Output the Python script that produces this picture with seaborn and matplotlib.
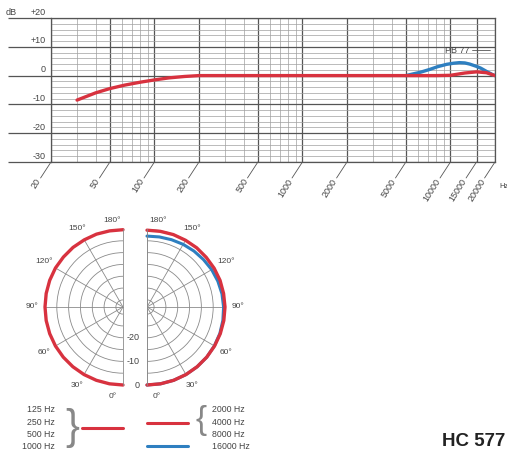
import numpy as np
import matplotlib
matplotlib.use('Agg')
import matplotlib.pyplot as plt
import matplotlib.ticker as mticker
from matplotlib.lines import Line2D
import seaborn as sns
import pandas as pd

sns.set_style('white')
plt.rcParams['font.family'] = ['Liberation Sans', 'DejaVu Sans']

RED = '#d8323f'
BLUE = '#2e7fc0'
GRID_MAJ = '#555555'
GRID_MIN = '#a0a0a0'
TXT = '#444444'

# Frequency response (Hz / dB)
resp_freq = [30, 40, 50, 63, 80, 100, 125, 160, 200, 300, 500, 1000, 2000, 5000, 8000,
             10000, 12500, 15000, 17500, 20000]
resp_db = [-8.5, -6.0, -4.5, -3.3, -2.3, -1.5, -0.8, -0.3, 0, 0, 0, 0, 0, 0, 0,
           0.1, 0.9, 1.3, 1.0, 0.0]
pb77_freq = [5000, 5500, 6300, 7300, 8200, 9400, 10500, 11500, 12500, 13500, 15000,
             16000, 17600, 19500, 20000]
pb77_db = [0, 0.5, 1.2, 2.2, 3.1, 3.9, 4.3, 4.5, 4.4, 4.0, 3.2, 2.6, 1.4, 0.2, 0]

freq_ticks = [20, 50, 100, 200, 500, 1000, 2000, 5000, 10000, 15000, 20000]
freq_labels = ['20', '50', '100', '200', '500', '1000', '2000', '5000', '10000', '15000', '20000']
db_ticks = [20, 10, 0, -10, -20, -30]
db_labels = ['+20', '+10', '0', '-10', '-20', '-30']

# Polar pattern (degrees / dB)
polar_deg = [0, 10, 20, 30, 40, 50, 60, 70, 80, 90, 100, 110, 120, 130, 140, 150, 160, 170, 180]
low_db = [0, 0, 0, 0, 0, 0, 0, 0, 0, 0, 0, 0, 0, -0.1, -0.1, -0.2, -0.2, -0.3, -0.3]
mid_db = [0, 0, 0, 0, 0, 0, 0, 0, 0, 0, -0.1, -0.1, -0.2, -0.3, -0.3, -0.4, -0.4, -0.5, -0.5]
hf16k_db = [0, 0, 0, 0, 0, 0, -0.1, -0.2, -0.4, -0.6, -0.8, -1.1, -1.4, -1.8, -2.1,
            -2.4, -2.7, -2.9, -3.0]
label_deg = [0, 30, 60, 90, 120, 150, 180]
polar_labels = ['0°', '30°', '60°', '90°', '120°', '150°', '180°']
ring_labels = ['0', '-10', '-20']
ring_vals = [0, -10, -20]

low_legend = ['125 Hz', '250 Hz', '500 Hz', '1000 Hz']
high_legend = ['2000 Hz', '4000 Hz', '8000 Hz', '16000 Hz']

W, H = 507, 457
fig = plt.figure(figsize=(W / 100, H / 100), dpi=100)


def fx(x):
    return x / W


def fy(y):
    return 1 - y / H


# ---------------- frequency response ----------------
ax = fig.add_axes([fx(51), fy(162), fx(495) - fx(51), fy(18) - fy(162)])
ax.set_xscale('log')
ax.set_xlim(20, 20000)
ax.set_ylim(-30, 20)

df_resp = pd.DataFrame({'f': resp_freq, 'db': resp_db})
df_pb = pd.DataFrame({'f': pb77_freq, 'db': pb77_db})
sns.lineplot(data=df_pb, x='f', y='db', ax=ax, color=BLUE, lw=2.4, estimator=None, sort=False, zorder=4)
sns.lineplot(data=df_resp, x='f', y='db', ax=ax, color=RED, lw=2.4, estimator=None, sort=False, zorder=5)

ax.xaxis.set_major_locator(mticker.FixedLocator(freq_ticks))
ax.xaxis.set_minor_locator(mticker.LogLocator(base=10, subs=np.arange(2, 10), numticks=20))
ax.yaxis.set_major_locator(mticker.MultipleLocator(10))
ax.yaxis.set_minor_locator(mticker.MultipleLocator(2))
ax.grid(which='major', color=GRID_MAJ, lw=0.9)
ax.grid(which='minor', color=GRID_MIN, lw=0.5)
ax.set_xticklabels([])
ax.set_yticklabels([])
ax.tick_params(axis='x', which='both', length=0)
ax.tick_params(axis='y', which='major', length=31, width=0.9, color=GRID_MAJ, direction='out', left=True)
ax.tick_params(axis='y', which='minor', length=0)
for s in ax.spines.values():
    s.set_color(GRID_MAJ)
    s.set_linewidth(0.9)
ax.set_xlabel('')
ax.set_ylabel('')

for v, lbl in zip(db_ticks, db_labels):
    ax.annotate(lbl, xy=(0, v), xycoords=('axes fraction', 'data'), xytext=(-4, 1),
                textcoords='offset points', ha='right', va='bottom', fontsize=6.5, color=TXT)
ax.annotate('dB', xy=(0, 20), xycoords=('axes fraction', 'data'), xytext=(-25, 1),
            textcoords='offset points', ha='right', va='bottom', fontsize=6.5, color=TXT)

for f, lbl in zip(freq_ticks, freq_labels):
    ax.annotate('', xy=(f, 0), xycoords=('data', 'axes fraction'), xytext=(-7.5, -11.5),
                textcoords='offset points',
                arrowprops=dict(arrowstyle='-', lw=0.6, color=GRID_MAJ, shrinkA=0, shrinkB=0))
    ax.annotate(lbl, xy=(f, 0), xycoords=('data', 'axes fraction'), xytext=(-8.5, -12.5),
                textcoords='offset points', rotation=58, rotation_mode='anchor',
                ha='right', va='center', fontsize=6.5, color=TXT)
ax.annotate('Hz', xy=(1, 0), xycoords='axes fraction', xytext=(3, -18),
            textcoords='offset points', ha='left', va='center', fontsize=5.5, color=TXT)

ax.annotate('PB 77', xy=(11200, 8.8), ha='center', va='center', fontsize=6.5, color=TXT)
ax.plot([14000, 18500], [8.8, 8.8], color=GRID_MAJ, lw=0.6)

# ---------------- polar halves ----------------
R_PX = 78
CY = 307
rmin = -33


def polar_half(cx, direction):
    # the half-disc wedge is squared up by matplotlib, so the box is 2R wide,
    # centred half a radius off the pole on the drawn side
    bx = cx + direction * R_PX / 2
    a = fig.add_axes([fx(bx - R_PX), fy(CY + R_PX), fx(2 * R_PX), fy(CY - R_PX) - fy(CY + R_PX)],
                     projection='polar')
    a.set_theta_zero_location('S')
    a.set_theta_direction(direction)
    a.set_thetamin(0)
    a.set_thetamax(180)
    a.set_rlim(rmin, 0)
    a.set_rticks([-30, -25, -20, -15, -10, -5, 0])
    a.set_xticks(np.deg2rad(label_deg))
    a.set_xticklabels([])
    a.set_yticklabels([])
    a.grid(True, color='#8a8a8a', lw=0.6)
    a.spines['polar'].set_visible(False)
    a.spines['start'].set_color('#8a8a8a')
    a.spines['end'].set_color('#8a8a8a')
    a.spines['start'].set_linewidth(0.6)
    a.spines['end'].set_linewidth(0.6)
    a.set_facecolor('none')
    for d, lbl in zip(label_deg, polar_labels):
        if d == 0:
            th, r = 6.5, 5.0
        elif d == 180:
            th, r = 173, 4.0
        else:
            th, r = d, 5.5
        a.text(np.deg2rad(th), r, lbl, ha='center', va='center', fontsize=6, color=TXT)
    return a


pl = polar_half(123, -1)
pr = polar_half(147, 1)

th = np.deg2rad(polar_deg)
sns.lineplot(x=th, y=low_db, ax=pl, color=RED, lw=2.4, estimator=None, sort=False)
sns.lineplot(x=th, y=hf16k_db, ax=pr, color=BLUE, lw=2.2, estimator=None, sort=False)
sns.lineplot(x=th, y=mid_db, ax=pr, color=RED, lw=2.4, estimator=None, sort=False)
for a in (pl, pr):
    a.set_xlabel('')
    a.set_ylabel('')
    a.set_rlim(rmin, 0)
    for ln in a.lines:
        ln.set_clip_on(False)

for v, lbl in zip(ring_vals, ring_labels):
    pr.annotate(lbl, xy=(0, v), xytext=(-5, 0), textcoords='offset points',
                ha='right', va='center', fontsize=6.5, color=TXT)

# ---------------- legend ----------------
for i, t in enumerate(low_legend):
    fig.text(fx(55), fy(410 + 12.3 * i), t, ha='right', va='center', fontsize=6.3, color=TXT)
for i, t in enumerate(high_legend):
    fig.text(fx(212), fy(410 + 12.3 * i), t, ha='left', va='center', fontsize=6.3, color=TXT)
fig.text(fx(72), fy(428), '}', ha='center', va='center', fontsize=30, color='#888888',
         fontweight='light')
fig.text(fx(201), fy(421), '{', ha='center', va='center', fontsize=24, color='#888888',
         fontweight='light')
fig.add_artist(Line2D([fx(82), fx(123)], [fy(428), fy(428)], color=RED, lw=2.2))
fig.add_artist(Line2D([fx(147), fx(188)], [fy(423), fy(423)], color=RED, lw=2.2))
fig.add_artist(Line2D([fx(147), fx(188)], [fy(446), fy(446)], color=BLUE, lw=2.2))

fig.text(fx(442), fy(442), 'HC 577', ha='left', va='center', fontsize=13.5,
         fontweight='bold', color='#222222')

fig.savefig('out.png', dpi=100)
